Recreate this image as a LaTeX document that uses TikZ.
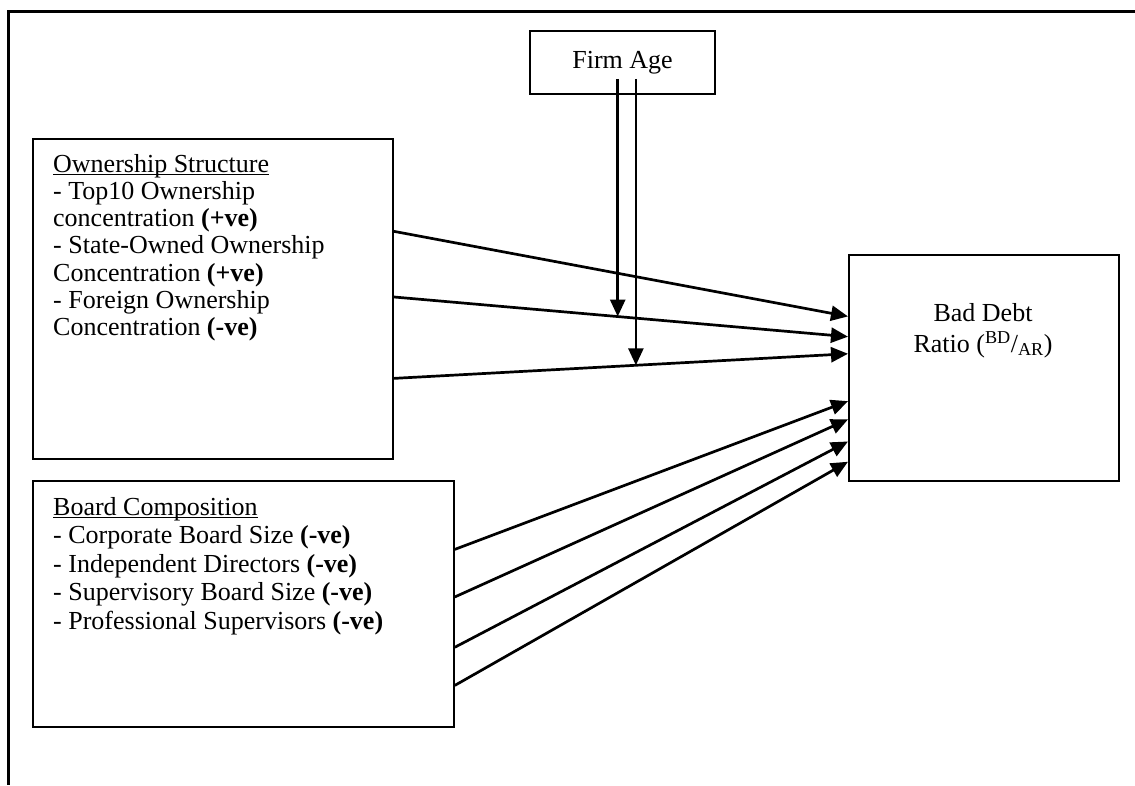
\documentclass[tikz,border=0pt]{standalone}
\usepackage{fontspec}
\setmainfont{Liberation Serif}
\usetikzlibrary{arrows.meta,calc}

% heading with a close underline
\newcommand{\headline}[1]{\sbox0{#1}\rlap{\rule[-3pt]{\wd0}{1.3pt}}\usebox0}

\tikzset{
  frame/.style={line width=3pt},
  block/.style={draw, line width=1.8pt, inner sep=0pt, anchor=north west},
  blocktext/.style={anchor=north west, inner sep=0pt, align=left},
  link/.style={line width=2.7pt, -{Triangle[length=17pt,width=15pt]}},
}

\begin{document}
\begin{tikzpicture}[x=1pt, y=-1pt, font=\fontsize{26}{27.2}\selectfont]
\useasboundingbox (0,0) rectangle (1135,785);
% outer frame, open at bottom and right
\draw[frame] (1135,11) -- (8,11) -- (8,785);

% boxes
\node[block, anchor=center, minimum width=185, minimum height=63] (age) at (622.5,62.5) {Firm Age};
\node[block, minimum width=360, minimum height=320] (own) at (32,138) {};
\node[block, minimum width=421, minimum height=246] (board) at (32,480) {};
\node[block, minimum width=270, minimum height=226] (bd) at (848,254) {};

% box texts
\node[blocktext] (owntext) at (53,152) {\rule{0pt}{20pt}\headline{Ownership Structure}\\
- Top10 Ownership\\
concentration \textbf{(+ve)}\\
- State-Owned Ownership\\
Concentration \textbf{(+ve)}\\
- Foreign Ownership\\
Concentration \textbf{(-ve)}};
\node[blocktext, font=\fontsize{26}{28.5}\selectfont] (boardtext) at (53,495) {\rule{0pt}{20pt}\headline{Board Composition}\\
- Corporate Board Size \textbf{(-ve)}\\
- Independent Directors \textbf{(-ve)}\\
- Supervisory Board Size \textbf{(-ve)}\\
- Professional Supervisors \textbf{(-ve)}};
\node[anchor=north, inner sep=0pt, align=center, font=\fontsize{26}{31}\selectfont] (bdtext) at (983,301) {\rule{0pt}{20pt}Bad Debt\\
Ratio (\textsuperscript{BD}/\textsubscript{AR})};

% ownership links
\draw[link] ($(own.north east)!0.29!(own.south east)$) -- ($(bd.north west)!0.274!(bd.south west)$);
\draw[link] ($(own.north east)!0.494!(own.south east)$) -- coordinate[pos=0.493] (m1) ($(bd.north west)!0.363!(bd.south west)$);
\draw[link] ($(own.north east)!0.747!(own.south east)$) -- coordinate[pos=0.533] (m2) ($(bd.north west)!0.438!(bd.south west)$);

% board links
\foreach \a/\b in {0.28/0.646, 0.472/0.726, 0.675/0.823, 0.829/0.912}
  \draw[link] ($(board.north east)!\a!(board.south east)$) -- ($(bd.north west)!\b!(bd.south west)$);

% firm age moderates
\draw[link] ($(m1 |- age.south)+(0,-16)$) -- (m1);
\draw[link] ($(m2 |- age.south)+(0,-16)$) -- (m2);
\end{tikzpicture}
\end{document}
